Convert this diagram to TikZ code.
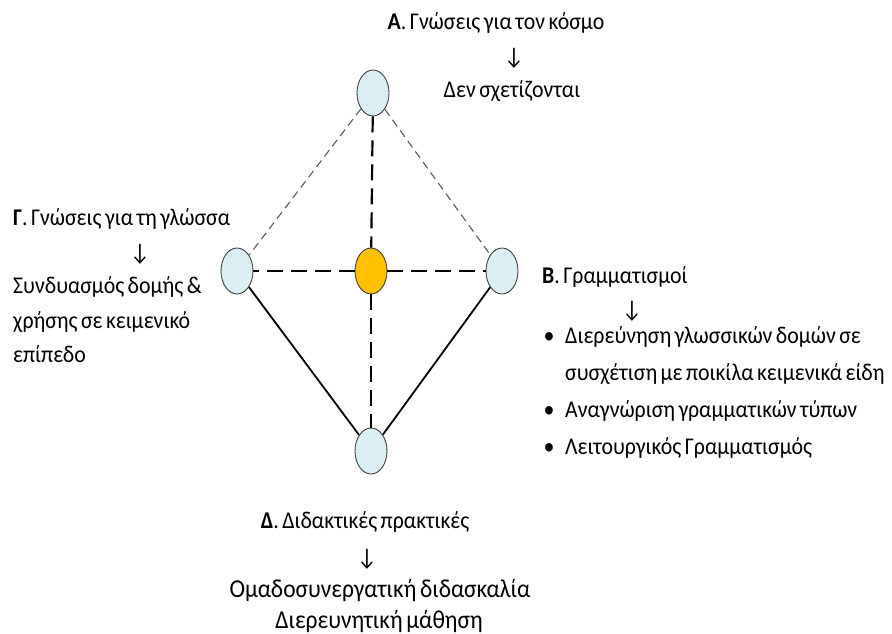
\documentclass[tikz,border=0pt]{standalone}
\usepackage{fontspec}
\setmainfont[FakeStretch=0.91, WordSpace=0.7]{Carlito}
\usetikzlibrary{shapes.geometric}
\definecolor{vblue}{HTML}{DAEEF3}
\definecolor{vgold}{HTML}{FFC000}
\definecolor{vedge}{HTML}{404040}
\begin{document}
\begin{tikzpicture}[x=1pt,y=-1pt,
  vtx/.style={ellipse, draw=vedge, fill=vblue, line width=0.9pt, minimum width=32pt, minimum height=46pt, inner sep=0pt},
  ctr/.style={vtx, fill=vgold},
  thinline/.style={draw=black!65, line width=1.1pt, dash pattern=on 8pt off 5pt},
  thickline/.style={draw=black, line width=2.2pt, dash pattern=on 16pt off 8pt},
  solidline/.style={draw=black, line width=1.8pt},
  txt/.style={inner sep=0pt, font=\fontsize{24}{28}\selectfont, text=black},
  bigtxt/.style={inner sep=0pt, font=\fontsize{25.8}{30}\selectfont, text=black, anchor=base},
  lt/.style={txt, anchor=base west},
  ct/.style={txt, anchor=base}]
\useasboundingbox (0,0) rectangle (892,634);
% vertices
\node[vtx] (t) at (373,93) {};
\node[vtx] (l) at (237,271) {};
\node[ctr] (c) at (371,271) {};
\node[vtx] (r) at (502,271) {};
\node[vtx] (b) at (371,451) {};
% edges
\draw[thinline] (t) -- (l);
\draw[thinline] (t) -- (r);
\draw[thickline] (t) -- (c);
\draw[thickline] (c) -- (l);
\draw[thickline] (c) -- (r);
\draw[thickline] (c) -- (b);
\draw[solidline] (l) -- (b);
\draw[solidline] (r) -- (b);
% A
\node[ct] (at) at (496,30) {\textbf{Α}. Γνώσεις για τον κόσμο};
\node[ct] (aa) at (514,65) {↓};
\node[ct] (a1) at (512,97) {Δεν σχετίζονται};
% Gamma
\node[lt] (gt) at (13,225) {\textbf{Γ}. Γνώσεις για τη γλώσσα};
\node[ct] (ga) at (140,260) {↓};
\node[lt] (g1) at (13,293) {Συνδυασμός δομής \&};
\node[lt] (g2) at (13,328) {χρήσης σε κειμενικό};
\node[lt] (g3) at (13,362) {επίπεδο};
% Beta
\node[lt] (bt) at (542,283) {\textbf{Β}. Γραμματισμοί};
\node[ct] (ba) at (632,317) {↓};
\node[ct] (bb1) at (549,343) {•};
\node[lt] (b1) at (565,343) {Διερεύνηση γλωσσικών δομών σε};
\node[lt] (b2) at (565,380) {συσχέτιση με ποικίλα κειμενικά είδη};
\node[ct] (bb2) at (549,417) {•};
\node[lt] (b3) at (565,417) {Αναγνώριση γραμματικών τύπων};
\node[ct] (bb3) at (549,454) {•};
\node[lt] (b4) at (565,454) {Λειτουργικός Γραμματισμός};
% Delta
\node[ct] (dt) at (365,528) {\textbf{Δ}. Διδακτικές πρακτικές};
\node[ct] (da) at (367,565) {↓};
\node[bigtxt] (d1) at (380,597) {Ομαδοσυνεργατική διδασκαλία};
\node[bigtxt] (d2) at (379,628) {Διερευνητική μάθηση};
\end{tikzpicture}
\end{document}
